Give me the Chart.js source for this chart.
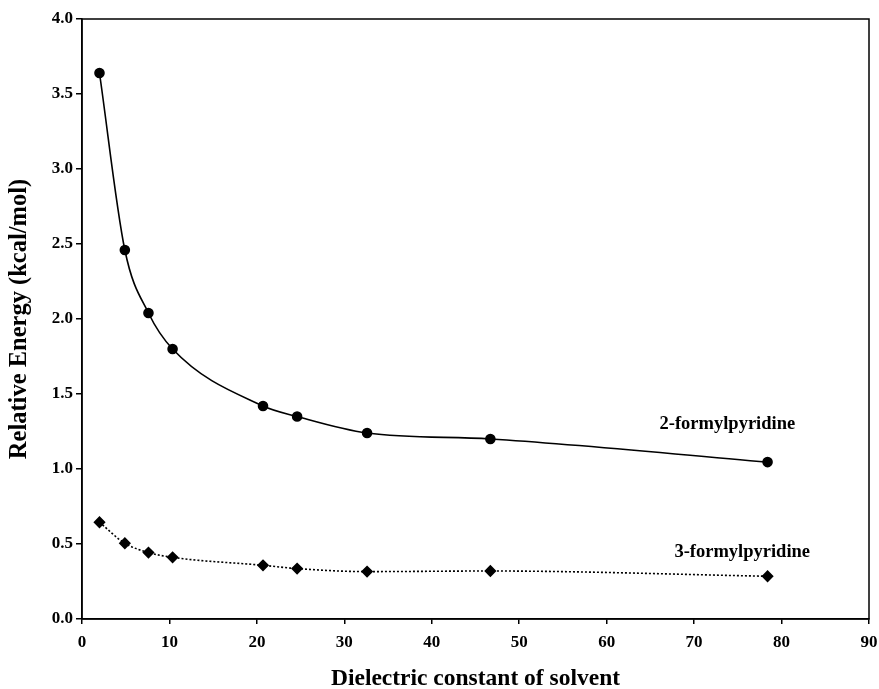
<!DOCTYPE html>
<html>
<head>
<meta charset="utf-8">
<script src="https://cdn.jsdelivr.net/npm/chart.js@4"></script>
<style>
html,body{margin:0;padding:0;background:#fff;}
#wrap{width:879px;height:689px;position:relative;}
</style>
</head>
<body>
<div id="wrap"><canvas id="c" width="879" height="689"></canvas></div>
<script>
const dielectric = [2.0, 4.9, 7.6, 10.36, 20.7, 24.6, 32.6, 46.7, 78.4];
const energy2 = [3.64, 2.46, 2.04, 1.80, 1.42, 1.35, 1.24, 1.20, 1.046];
const energy3 = [0.645, 0.505, 0.443, 0.411, 0.358, 0.336, 0.316, 0.320, 0.285];
const seriesNames = ['2-formylpyridine', '3-formylpyridine'];
const labelPos = [[73.8, 1.30], [75.5, 0.445]];
const xTitle = 'Dielectric constant of solvent';
const yTitle = 'Relative Energy (kcal/mol)';

const serif = "'Liberation Serif', 'Times New Roman', serif";

const toPts = (xs, ys) => xs.map((x, i) => ({x: x, y: ys[i]}));

const frame = {
  id: 'frame',
  afterDatasetsDraw(chart) {
    const {ctx, chartArea: a, scales} = chart;
    ctx.save();
    ctx.strokeStyle = '#000';
    ctx.lineWidth = 1.5;
    ctx.strokeRect(a.left, a.top, a.right - a.left, a.bottom - a.top);
    ctx.fillStyle = '#000';
    ctx.font = "bold 18.5px " + serif;
    ctx.textAlign = 'center';
    ctx.textBaseline = 'middle';
    seriesNames.forEach((n, i) => {
      ctx.fillText(n, scales.x.getPixelForValue(labelPos[i][0]), scales.y.getPixelForValue(labelPos[i][1]));
    });
    ctx.restore();
  }
};

new Chart(document.getElementById('c'), {
  type: 'line',
  data: {
    datasets: [
      {
        label: seriesNames[0],
        data: toPts(dielectric, energy2),
        borderColor: '#000',
        backgroundColor: '#000',
        borderWidth: 1.6,
        pointStyle: 'circle',
        pointRadius: 4.5,
        cubicInterpolationMode: 'monotone',
        fill: false
      },
      {
        label: seriesNames[1],
        data: toPts(dielectric, energy3),
        borderColor: '#000',
        backgroundColor: '#000',
        borderWidth: 1.6,
        borderDash: [2, 2],
        pointStyle: 'rectRot',
        pointRadius: 5,
        cubicInterpolationMode: 'monotone',
        fill: false
      }
    ]
  },
  options: {
    responsive: false,
    animation: false,
    events: [],
    layout: {padding: {top: 19, right: 10, left: 0, bottom: 0}},
    plugins: {legend: {display: false}, tooltip: {enabled: false}},
    scales: {
      x: {
        type: 'linear',
        min: 0, max: 90,
        afterFit(s) { s.height = 70; s.paddingLeft = 0; s.paddingRight = 0; },
        ticks: {stepSize: 10, color: '#000', font: {family: serif, size: 17, weight: 'bold'}, padding: 8, maxRotation: 0},
        grid: {display: true, drawOnChartArea: false, drawTicks: true, tickLength: 5, color: '#000', lineWidth: 1.5},
        border: {display: true, color: '#000', width: 1.5},
        title: {display: true, text: xTitle, color: '#000', font: {family: serif, size: 23.5, weight: 'bold'}, padding: {top: 0, bottom: -4}}
      },
      y: {
        type: 'linear',
        min: 0, max: 4,
        afterFit(s) { s.width = 82; s.paddingTop = 0; s.paddingBottom = 0; },
        ticks: {stepSize: 0.5, color: '#000', font: {family: serif, size: 17, weight: 'bold'}, padding: 3,
          callback: v => v.toFixed(1)},
        grid: {display: true, drawOnChartArea: false, drawTicks: true, tickLength: 6, color: '#000', lineWidth: 1.5},
        border: {display: true, color: '#000', width: 1.5},
        title: {display: true, text: yTitle, color: '#000', font: {family: serif, size: 24.5, weight: 'bold'}, padding: {top: 5, bottom: 0}}
      }
    }
  },
  plugins: [frame]
});
</script>
</body>
</html>
